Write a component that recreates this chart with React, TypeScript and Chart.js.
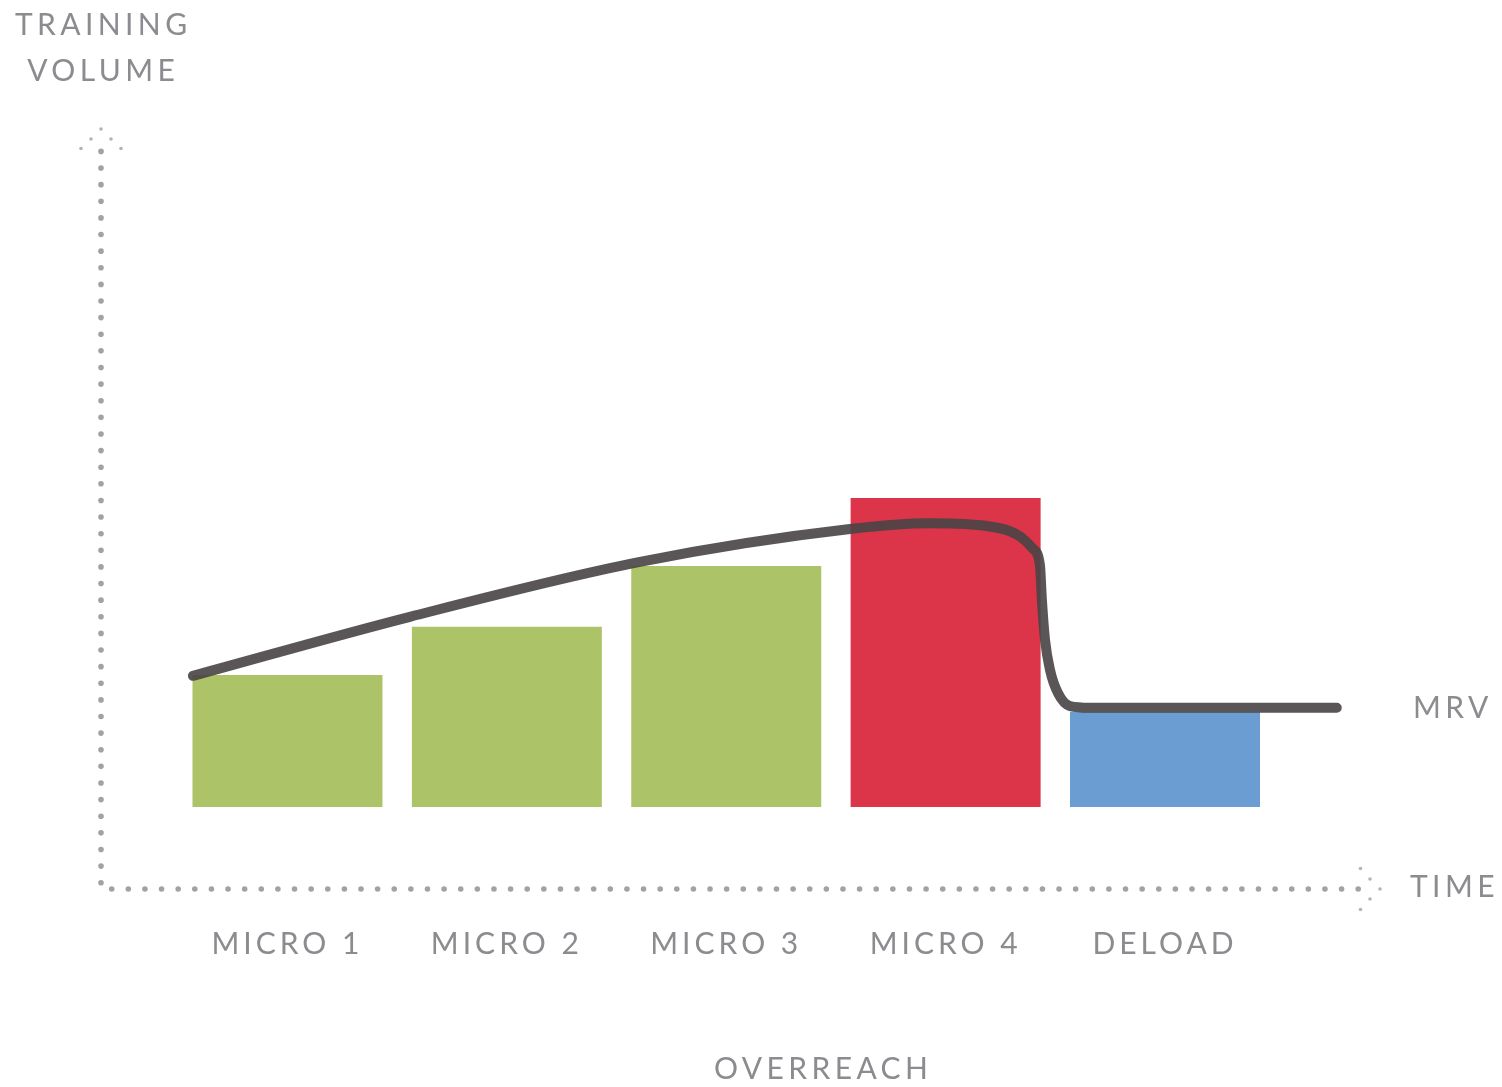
import React, { useEffect, useRef } from 'react';
import { Chart, registerables } from 'chart.js';

Chart.register(...registerables);

// ---- data ----
const categories = ['MICRO 1', 'MICRO 2', 'MICRO 3', 'MICRO 4', 'DELOAD'];
const categoryIndex = [0, 1, 2, 3, 4];
const volumes = [1.61, 2.2, 2.94, 3.77, 1.16];
const barColors = ['#acc368', '#acc368', '#acc368', '#dc3448', '#6b9cd2'];
// fatigue / volume curve (x in category units, y in volume units)
const curveX = [-0.431, 0.558, 1.607, 2.564, 2.928, 3.247, 3.339, 3.398, 3.43, 3.439, 3.453, 3.476, 3.512, 3.567, 3.658, 4.783];
const curveY = [1.6, 2.32, 2.99, 3.39, 3.46, 3.4, 3.3, 3.15, 2.95, 2.52, 2.04, 1.67, 1.39, 1.23, 1.21, 1.21];
const xRange = [-0.85, 4.98];
const yRange = [-1, 8.27];

const TEXT_COLOR = '#8b8b90';
const FONT = 'Lato';

const axisDots = {
  id: 'axisDots',
  beforeDraw(chart: any) {
    chart.ctx.letterSpacing = '4px';
  },
  beforeDatasetsDraw(chart: any) {
    const { ctx, chartArea } = chart;
    const { left, right, top, bottom } = chartArea;
    const step = 16.62;
    const dot = (x: number, y: number, r: number) => {
      ctx.beginPath();
      ctx.arc(x, y, r, 0, Math.PI * 2);
      ctx.fill();
    };
    ctx.save();
    ctx.fillStyle = '#a2a2a4';
    for (let y = bottom - 6.3; y >= top + 20; y -= step) dot(left, y, 2.8);
    for (let x = left + 10.7; x <= right - 20; x += step) dot(x, bottom, 2.8);
    ctx.fillStyle = '#b4b4b6';
    // y arrow head
    dot(left, top, 1.8);
    dot(left - 10, top + 10, 1.8);
    dot(left + 10, top + 10, 1.8);
    dot(left - 20, top + 19.5, 1.8);
    dot(left + 20, top + 19.5, 1.8);
    // x arrow head
    dot(right, bottom, 1.8);
    dot(right - 10, bottom - 10, 1.8);
    dot(right - 10, bottom + 10, 1.8);
    dot(right - 19.5, bottom - 20.5, 1.8);
    dot(right - 19.5, bottom + 20.5, 1.8);
    ctx.restore();
  },
};

function Label({ text, x, y, align }: { text: string; x: number; y: number; align: 'center' | 'left' }) {
  return (
    <div
      style={{
        position: 'absolute',
        left: x,
        top: y - 0.75,
        transform: align === 'center' ? 'translate(-50%, -50%)' : 'translate(0, -50%)',
        fontFamily: FONT,
        fontSize: 30,
        lineHeight: '30px',
        letterSpacing: '4.4px',
        paddingLeft: align === 'center' ? 4.4 : 0,
        color: TEXT_COLOR,
        whiteSpace: 'nowrap',
      }}
    >
      {text}
    </div>
  );
}

export default function App() {
  const ref = useRef<HTMLCanvasElement>(null);

  useEffect(() => {
    if (!ref.current) return;
    const chart = new Chart(ref.current, {
      type: 'bar',
      data: {
        datasets: [
          {
            type: 'line',
            data: curveX.map((x, i) => ({ x, y: curveY[i] })),
            borderColor: 'rgba(72,68,70,0.9)',
            borderWidth: 10,
            borderCapStyle: 'round',
            borderJoinStyle: 'round',
            pointRadius: 0,
            cubicInterpolationMode: 'monotone',
            clip: false,
            order: 0,
          } as any,
          {
            type: 'bar',
            data: categoryIndex.map((x, i) => ({ x, y: volumes[i] })),
            backgroundColor: barColors,
            borderWidth: 0,
            barPercentage: 0.866,
            categoryPercentage: 1,
            order: 1,
          } as any,
        ],
      },
      options: {
        responsive: false,
        animation: false,
        devicePixelRatio: 1,
        layout: { padding: { left: 101, right: 122, top: 129, bottom: 0 } },
        plugins: { legend: { display: false }, tooltip: { enabled: false } },
        scales: {
          x: {
            type: 'linear',
            min: xRange[0],
            max: xRange[1],
            offset: false,
            grid: { display: false },
            border: { display: false },
            afterBuildTicks: (s: any) => {
              s.ticks = categoryIndex.map((v) => ({ value: v }));
            },
            afterFit: (s: any) => {
              s.height = 198;
            },
            ticks: {
              autoSkip: false,
              maxRotation: 0,
              padding: 29,
              color: TEXT_COLOR,
              font: { family: FONT, size: 30 },
              callback: (_v: any, i: number) => categories[i],
            },
          },
          y: { display: false, min: yRange[0], max: yRange[1] },
        },
      } as any,
      plugins: [axisDots],
    });
    return () => chart.destroy();
  }, []);

  return (
    <div style={{ position: 'absolute', left: 0, top: 0, width: 1502, height: 1087, background: '#fff', overflow: 'hidden' }}>
      <canvas ref={ref} width={1502} height={1087} style={{ width: 1502, height: 1087, display: 'block' }} />
      <Label text="TRAINING" x={101} y={24} align="center" />
      <Label text="VOLUME" x={101} y={70} align="center" />
      <Label text="TIME" x={1410} y={886} align="left" />
      <Label text="MRV" x={1413} y={706.7} align="left" />
      <Label text="OVERREACH" x={821} y={1068} align="center" />
    </div>
  );
}
